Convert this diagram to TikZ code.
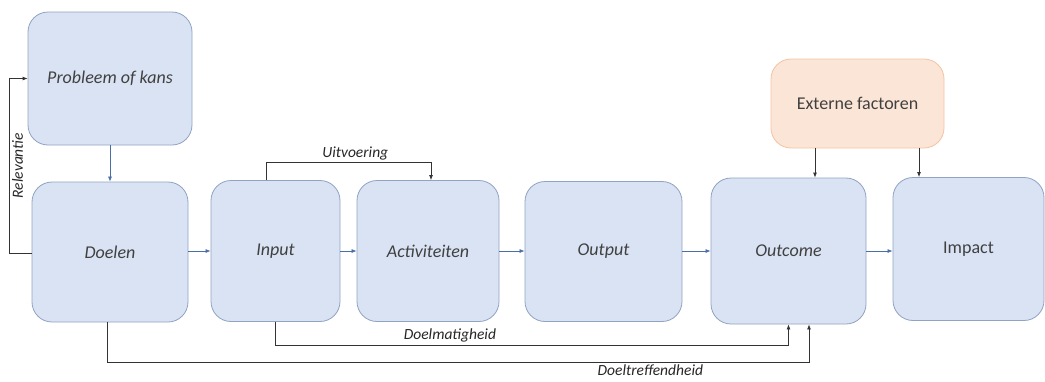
\documentclass[tikz,border=0pt]{standalone}
\usepackage{fontspec}
\setmainfont{Carlito}
\usetikzlibrary{arrows.meta,positioning}

\definecolor{boxfill}{HTML}{DAE3F3}
\definecolor{boxline}{HTML}{8FA3C2}
\definecolor{extfill}{HTML}{FBE5D6}
\definecolor{extline}{HTML}{F2C4A4}
\definecolor{flow}{HTML}{4A6FA5}
\definecolor{txt}{HTML}{404040}

\tikzset{
  stage/.style={draw=boxline, fill=boxfill, rounded corners=20pt, line width=0.8pt,
    text=txt, font=\fontsize{18}{20}\selectfont\itshape, align=center},
  extern/.style={stage, draw=extline, fill=extfill, font=\fontsize{18}{20}\selectfont},
  flowarrow/.style={-{Latex[length=5pt,width=4pt]}, draw=flow, line width=0.7pt},
  link/.style={-{Latex[length=5pt,width=4pt]}, draw=black!80, line width=0.8pt},
  lbl/.style={text=black!85, font=\fontsize{15.5}{17}\selectfont\itshape, inner sep=2pt}
}

\begin{document}
\begin{tikzpicture}[x=1pt, y=-1pt]
  \useasboundingbox (0,0) rectangle (1045,381);

  % de vakken
  \node[stage, minimum width=164pt, minimum height=133pt] (prob) at (110,78.5) {Probleem of kans};
  \node[stage, minimum width=156pt, minimum height=140pt] (doel) at (110,252) {Doelen};
  \node[stage, minimum width=129pt, minimum height=141pt] (input) at (275.5,251) {Input};
  \node[stage, minimum width=142pt, minimum height=141pt] (activ) at (428,251) {Activiteiten};
  \node[stage, minimum width=157pt, minimum height=140pt] (output) at (603.5,251.5) {Output};
  \node[stage, minimum width=155pt, minimum height=146pt] (outcome) at (788.5,251) {Outcome};
  \node[stage, font=\fontsize{18}{20}\selectfont, minimum width=151pt, minimum height=143pt] (impact) at (968.5,249) {Impact};
  \node[extern, minimum width=173pt, minimum height=89pt] (ext) at (857.5,103.5) {Externe factoren};

  % de keten
  \draw[flowarrow] (prob.south) -- (doel.north);
  \draw[flowarrow] (doel.east |- 0,251) -- (input.west |- 0,251);
  \draw[flowarrow] (input.east |- 0,251) -- (activ.west |- 0,251);
  \draw[flowarrow] (activ.east |- 0,251) -- (output.west |- 0,251);
  \draw[flowarrow] (output.east |- 0,251) -- (outcome.west |- 0,251);
  \draw[flowarrow] (outcome.east |- 0,251) -- (impact.west |- 0,251);

  % de toetsen
  \draw[link] (doel.west |- 0,253) -- ++(-22,0) |- node[lbl, rotate=90, anchor=north, pos=0.25] {Relevantie} (prob.west);
  \draw[link] ([xshift=-9pt]input.north) -- ++(0,-18) -| node[lbl, above, pos=0.27] {Uitvoering} ([xshift=3pt]activ.north);
  \draw[link] (input.south) -- ++(0,23) -| node[lbl, above, pos=0.17] {Doelmatigheid} (outcome.south);
  \draw[link] ([xshift=-3pt]doel.south) -- ++(0,40) -| node[lbl, below, pos=0.387] {Doeltreffendheid} ([xshift=20.5pt]outcome.south);

  % externe invloed
  \draw[link] ([xshift=-42.5pt]ext.south) -- ([xshift=-42.5pt]ext.south |- outcome.north);
  \draw[link] ([xshift=61.5pt]ext.south) -- ([xshift=61.5pt]ext.south |- impact.north);
\end{tikzpicture}
\end{document}
